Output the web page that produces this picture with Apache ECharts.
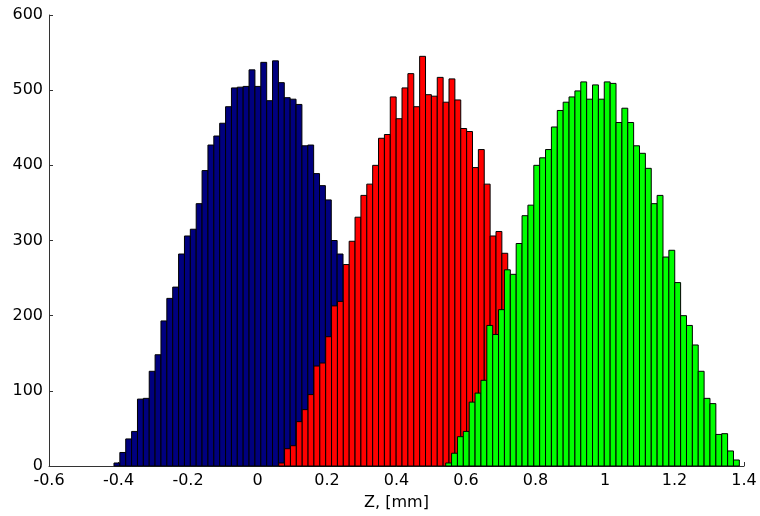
<!DOCTYPE html>
<html><head><meta charset="utf-8">
<script src="https://cdn.jsdelivr.net/npm/echarts@6/dist/echarts.min.js"></script>
<style>html,body{margin:0;padding:0;background:#fff}#c{width:760px;height:516px}</style>
</head><body><div id="c"></div>
<script>
// Histogram bin definitions (left edge of first bin, common bin width)
const binWidth = 0.0169;
const blueStart = -0.413;
const redStart = 0.061;
const greenStart = 0.5416;

// Counts per bin
const blueCounts = [4, 18, 36, 46, 89, 90, 126, 148, 193, 223,
  238, 282, 306, 315, 349, 393, 427, 439, 456, 478,
  503, 504, 505, 527, 505, 537, 486, 539, 510, 490,
  488, 481, 426, 427, 389, 373, 354, 300, 282, 215,
  190, 160, 130, 100, 72, 48, 28, 14, 6, 2];
const redCounts = [4, 23, 27, 59, 75, 95, 133, 137, 172, 213,
  219, 268, 299, 331, 360, 375, 400, 436, 441, 491,
  462, 503, 522, 478, 545, 494, 492, 517, 484, 515,
  487, 449, 445, 397, 421, 375, 306, 312, 283, 240,
  205, 170, 135, 100, 70, 45, 25, 12, 5, 2];
const greenCounts = [4, 17, 39, 46, 85, 97, 114, 187, 175, 208,
  261, 255, 296, 333, 347, 400, 410, 421, 451, 473,
  484, 491, 499, 511, 488, 507, 488, 511, 509, 457,
  476, 457, 426, 416, 396, 349, 360, 278, 287, 244,
  200, 187, 161, 126, 90, 83, 42, 43, 20, 8];

const xTicks = [-0.6, -0.4, -0.2, 0, 0.2, 0.4, 0.6, 0.8, 1, 1.2, 1.4];
const yTicks = [0, 100, 200, 300, 400, 500, 600];
const xName = 'Z, [mm]';

function bins(start, counts) {
  return counts.map((c, i) => [start + i * binWidth, start + (i + 1) * binWidth, c]);
}
function makeRender(color) {
  return function (params, api) {
    const p0 = api.coord([api.value(0), api.value(2)]);
    const p1 = api.coord([api.value(1), 0]);
    return {
      type: 'rect',
      shape: { x: p0[0], y: p0[1], width: p1[0] - p0[0], height: p1[1] - p0[1] },
      style: { fill: color, stroke: '#000', lineWidth: 1 }
    };
  };
}
function series(start, counts, color) {
  return {
    type: 'custom',
    renderItem: makeRender(color),
    data: bins(start, counts),
    encode: { x: [0, 1], y: 2 },
    clip: false,
    animation: false
  };
}

const font = { fontFamily: '"DejaVu Sans", sans-serif', fontSize: 16, color: '#000' };
const chart = echarts.init(document.getElementById('c'), null, { renderer: 'canvas' });
chart.setOption({
  animation: false,
  backgroundColor: '#fff',
  grid: { left: 49, right: 16, top: 15, bottom: 48 },
  xAxis: {
    type: 'value',
    min: xTicks[0], max: xTicks[xTicks.length - 1], interval: 0.2,
    name: xName, nameLocation: 'middle', nameGap: 29,
    nameTextStyle: font,
    axisLine: { show: true, onZero: false, lineStyle: { color: '#333', width: 1 } },
    axisTick: { show: true, inside: true, length: 4, lineStyle: { color: '#333' } },
    axisLabel: Object.assign({ margin: 7, formatter: v => String(+v.toFixed(1)) }, font),
    splitLine: { show: false }
  },
  yAxis: {
    type: 'value',
    min: yTicks[0], max: yTicks[yTicks.length - 1], interval: 100,
    axisLine: { show: true, onZero: false, lineStyle: { color: '#333', width: 1 } },
    axisTick: { show: true, inside: true, length: 4, lineStyle: { color: '#333' } },
    axisLabel: Object.assign({ margin: 6 }, font),
    splitLine: { show: false }
  },
  series: [
    series(blueStart, blueCounts, '#00007f'),
    series(redStart, redCounts, '#ff0000'),
    series(greenStart, greenCounts, '#00ff00')
  ]
});
</script>
</body></html>
